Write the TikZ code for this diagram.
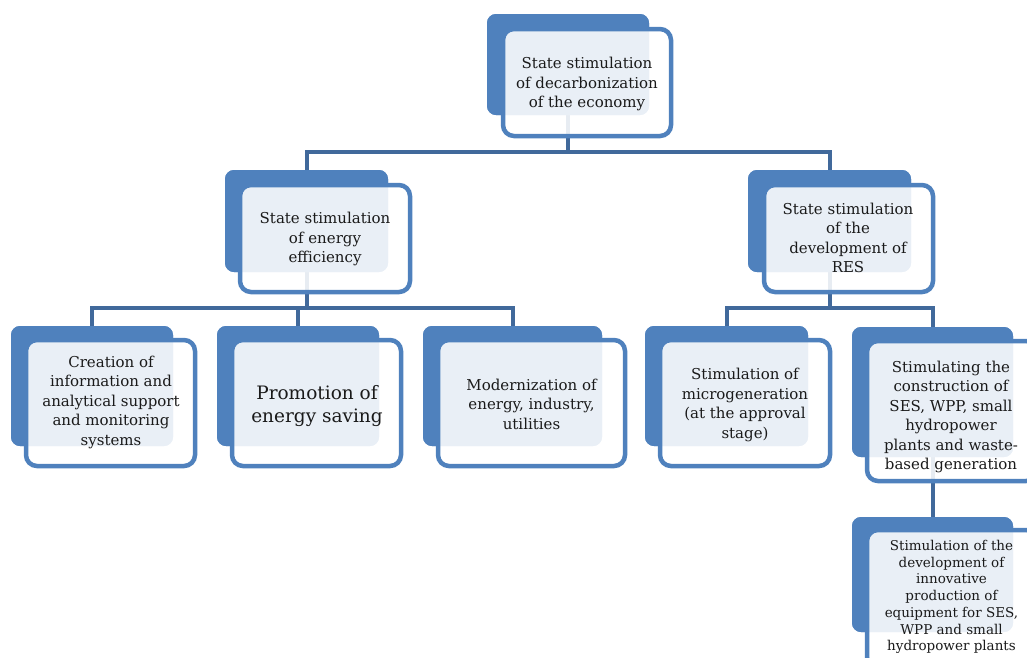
\documentclass[tikz,border=0pt]{standalone}
\usepackage{fontspec}
\setmainfont{DejaVu Serif}
\definecolor{accent}{HTML}{4F81BD}
\definecolor{connc}{HTML}{41699B}
\definecolor{txt}{HTML}{1A1A1A}
\begin{document}
\begin{tikzpicture}[x=1pt,y=-1pt,
 backbox/.style={draw=none, fill=accent, rounded corners=9pt, inner sep=0pt, outer sep=0pt},
 frontbox/.style={draw=accent, line width=4.5pt, fill=white, fill opacity=0.88, draw opacity=1, rounded corners=11pt, inner sep=0pt, outer sep=0pt},
 conn/.style={draw=connc, line width=4pt},
 lbl/.style={text=txt, align=center, font=\fontsize{15}{19.5}\selectfont, inner sep=0pt},
 biglbl/.style={lbl, font=\fontsize{18.5}{23}\selectfont},
 smalllbl/.style={lbl, font=\fontsize{13.5}{16.7}\selectfont},
]
\useasboundingbox (0,0) rectangle (1027,657);
\clip (0,0) rectangle (1027,657);

% back boxes (named, used by connectors)
\path
 node[backbox, minimum width=162pt, minimum height=101pt] (b0) at (568,64.5) {}
 node[backbox, minimum width=163pt, minimum height=102pt] (b1) at (306.5,221) {}
 node[backbox, minimum width=163pt, minimum height=102pt] (b2) at (829.5,221) {}
 node[backbox, minimum width=162pt, minimum height=120pt] (b3) at (92,386) {}
 node[backbox, minimum width=162pt, minimum height=120pt] (b4) at (298,386) {}
 node[backbox, minimum width=179pt, minimum height=120pt] (b5) at (512.5,386) {}
 node[backbox, minimum width=163pt, minimum height=120pt] (b6) at (726.5,386) {}
 node[backbox, minimum width=161pt, minimum height=130pt] (b7) at (932.5,392) {}
 node[backbox, minimum width=161pt, minimum height=115pt] (b8) at (932.5,574.5) {};

% connectors (drawn under the boxes)
\begin{scope}[on background layer/.try]
\end{scope}
\coordinate (j0) at (568,152);
\coordinate (j1) at (306.5,308);
\coordinate (j2) at (829.5,308);
\draw[conn] (b0.south) -- (j0);
\draw[conn] (b1.north) |- (j0) -| (b2.north);
\draw[conn] (b1.south) -- (j1);
\draw[conn] (b3.north) |- (j1) -| (b5.north);
\draw[conn] (j1) -| (b4.north);
\draw[conn] (b2.south) -- (j2);
\draw[conn] (b6.north) |- (j2) -| (b7.north);
\draw[conn] (b7.south) -- (b8.north);

% redraw back boxes over connector ends
\foreach \b in {b0,b1,b2,b3,b4,b5,b6,b7,b8}{
  \fill[accent, rounded corners=9pt] (\b.south west) rectangle (\b.north east);
}

% front boxes
\node[frontbox, minimum width=168pt, minimum height=107pt] (f0) at (587,82.5) {};
\node[frontbox, minimum width=170pt, minimum height=107pt] (f1) at (325,238.5) {};
\node[frontbox, minimum width=169pt, minimum height=107pt] (f2) at (848.5,238.5) {};
\node[frontbox, minimum width=169pt, minimum height=126pt] (f3) at (110.5,403) {};
\node[frontbox, minimum width=169pt, minimum height=126pt] (f4) at (316.5,403) {};
\node[frontbox, minimum width=187pt, minimum height=126pt] (f5) at (531.5,403) {};
\node[frontbox, minimum width=170pt, minimum height=126pt] (f6) at (745,403) {};
\node[frontbox, minimum width=170pt, minimum height=140pt] (f7) at (952,411) {};
\node[frontbox, minimum width=170pt, minimum height=138pt] (f8) at (952,599) {};

% texts
\node[lbl] (t0) at (587,84) {State stimulation\\of decarbonization\\of the economy};
\node[lbl] (t1) at (325,239) {State stimulation\\of energy\\efficiency};
\node[lbl] (t2) at (848,238) {State stimulation\\of the\\development of\\RES};
\node[lbl] (t3) at (111,402) {Creation of\\information and\\analytical support\\and monitoring\\systems};
\node[biglbl] (t4) at (317,406) {Promotion of\\energy saving};
\node[lbl] (t5) at (531.5,404) {Modernization of\\energy, industry,\\utilities};
\node[lbl] (t6) at (745,405) {Stimulation of\\microgeneration\\(at the approval\\stage)};
\node[lbl] (t7) at (951,417) {Stimulating the\\construction of\\SES, WPP, small\\hydropower\\plants and waste-\\based generation};
\node[smalllbl] (t8) at (951.5,597) {Stimulation of the\\development of\\innovative\\production of\\equipment for SES,\\WPP and small\\hydropower plants};
\end{tikzpicture}
\end{document}
